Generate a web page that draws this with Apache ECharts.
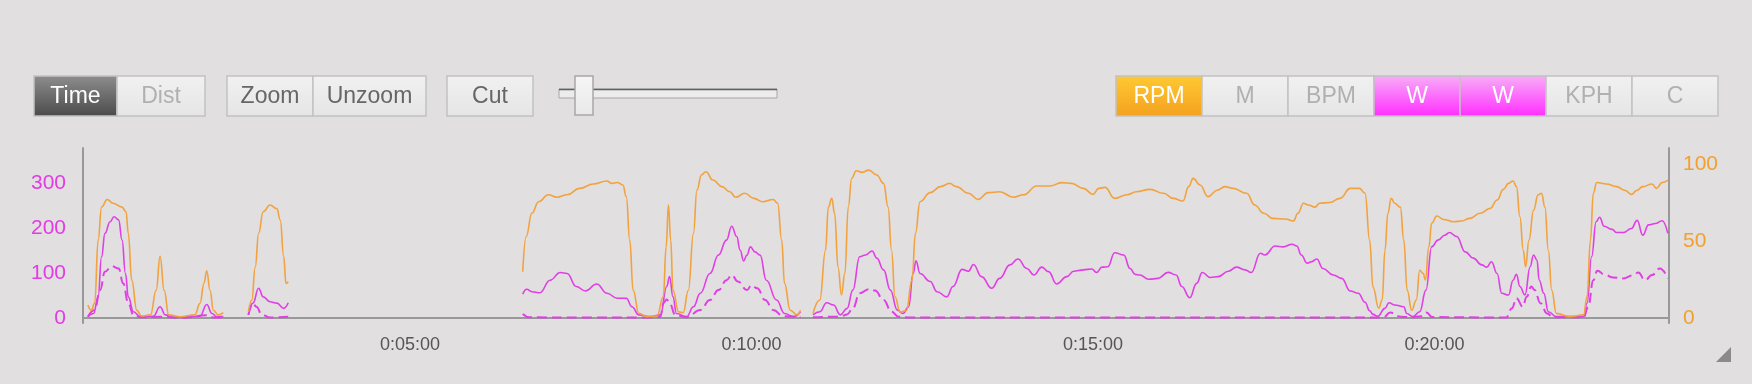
<!DOCTYPE html>
<html><head><meta charset="utf-8">
<script src="https://cdn.jsdelivr.net/npm/echarts@6/dist/echarts.min.js"></script>
<style>html,body{margin:0;padding:0;background:#e1dfdf;}#c{width:1752px;height:384px;}</style>
</head><body><div id="c"></div>
<script>
// ---- data (time in seconds) ----
const timeTicks = [300, 600, 900, 1200];
const wattTicks = [0, 100, 200, 300];
const rpmTicks = [0, 50, 100];
const toolbarLeft = ['Time', 'Dist'];
const toolbarZoom = ['Zoom', 'Unzoom'];
const toolbarCut = ['Cut'];
const metricButtons = ['RPM', 'M', 'BPM', 'W', 'W', 'KPH', 'C'];

const rpm = [[17,8.4],[20,5],[23,9.7],[26,50.6],[29,72],[34,77],[39,74.5],[47,72],[50.5,69],[52.5,55],[55.5,24.7],[60,5],[64,1.3],[72,2],[77,18],[80.4,40],[84,18],[88,2],[98,0.8],[111,2],[115.5,9.5],[119,22.6],[121.4,30.7],[124.3,18],[127.2,5],[131.6,2],[136,3.5],[147,null],
[158,4],[161,11.7],[164,33],[167,55],[171,69],[177,73.4],[183,71],[186,63.6],[189,40],[191,22.5],[193,23.6],[300,null],
[399,30],[402,52.8],[407,68],[413,75.5],[421.5,80],[429,78.4],[438,80],[449,84.2],[461,87],[473,89],[477,87.4],[482,88],[487,86.4],[490,78.8],[493,50.6],[496,18],[501,3],[508,0.9],[517,1.3],[522.5,13.8],[525,46],[527,73.4],[529,50.6],[531,18],[536,4],[540,3.5],[544.5,18],[549,55],[552,83],[556,92.9],[560,95],[566,89.6],[574,85.3],[581,82],[586,78.4],[594,81],[602,77.7],[610,75.5],[619,77],[623,74.5],[626.5,50.6],[629,22.5],[634,5],[640,2],[643,5],[648,null],
[654,3],[660,11.7],[665,44],[667.5,72],[670.5,77.7],[673,68],[676,33],[679,15],[682,29],[685,72],[688,90.7],[692,95.6],[697,94.6],[703,96],[710,92.9],[716,87.4],[720,72],[723,44],[726,13.8],[730.5,4],[736,4.7],[741,24.7],[744,55],[748,75.5],[757,81.4],[766,85.3],[774,87.4],[780,85.3],[790.5,81],[799,77],[808,81.4],[818,82],[830,78.4],[839,80],[850.5,85.7],[862,85.7],[872.5,87.9],[881,87.4],[891.5,84.2],[900,80.3],[905,84.2],[910.5,84.8],[919,77.7],[930,80],[938,82],[950,83.5],[962,81],[970.5,77.7],[979,76],[984,85.3],[988,90.7],[994,86.4],[1001,78.8],[1009,83],[1016,85.3],[1023,84.2],[1035,81],[1042,73.4],[1050,68],[1058,64.7],[1069,64.3],[1076,63],[1080,68],[1085,74.5],[1089,73.4],[1095,72],[1099,74.5],[1108,75],[1117,77.7],[1126,84.2],[1134,84.2],[1139,81],[1143,50.6],[1146,20],[1151,6.3],[1154,11.7],[1156.5,44],[1159,68],[1162,77.7],[1165,74.5],[1170,72],[1173,50.6],[1176,18],[1180,5],[1184,11.7],[1187,31],[1190,29],[1192,24.7],[1195,46],[1197.5,61.5],[1202,66.2],[1208,64],[1216.5,62.5],[1224,63],[1231,64.7],[1240,68],[1249,71.2],[1255,76.6],[1260.5,83.5],[1265,87.4],[1269,89],[1272,85.3],[1275,65.8],[1278,44],[1280,33.3],[1283,50.6],[1287,70],[1291,80],[1294,81],[1297,72],[1300,44],[1303,18],[1307,3],[1319,0.9],[1331,2],[1334,13.8],[1337,50.6],[1339.5,81],[1342.5,88],[1351,87],[1360,85.3],[1367,83],[1373,80.3],[1377.6,82.8],[1383,85.3],[1391,87],[1395,84.2],[1400,88],[1405,89.6]];

const watts = [[17,3],[22,10],[26,47],[29,136],[32,188],[36.5,214],[40,225],[44,218],[47,173],[50,99],[52.5,47],[57,14],[63,3],[74.5,4],[80.4,25],[85,7],[92,1.5],[115.5,4],[121.4,30],[126,10],[130,3],[136,3],[147,null],
[158,7],[162,33],[167,66],[171,47],[177,36],[183,33],[189,21.5],[193,34],[300,null],
[399,53],[402.5,64],[407,58.5],[414,56],[423,84],[432,101],[438,99],[446,70],[454,60],[464,75.5],[473,55],[482,44],[490,44],[495,25],[501,7],[511,3],[520,7],[525.5,70],[528,92],[531,47],[534,10],[543,3],[549,25],[555,55],[563.5,99],[571,140],[578,173],[582.6,204],[587,181],[590,151],[593,127],[596,140],[599,158],[603,147],[607.5,140],[613,84],[622,40],[629,10],[637,3],[643,14],[648,null],
[654,7],[660,14],[666,34],[672,29],[678,7],[684,21.5],[689,62],[695,136],[700,140],[706,149],[710,133],[716,107],[722,62],[728,18],[733,10],[738,25],[742,99],[744.5,127],[748,99],[757,81],[763,58.5],[771.5,47],[777,70],[785,108],[790.5,104],[795,119],[802,92],[811,66],[818,88],[827,118],[834,131],[842,110],[848,95.5],[855,113],[861,103],[868,75.5],[877,92],[883,104],[891.5,107],[899,109],[903,101],[908,113],[913,114],[919,145],[927,140],[932.5,110],[937,97],[941,95.5],[949,86],[957,88],[966,101.5],[973,95.5],[978,70],[985,45],[991,77],[996,101],[1003,90],[1010,92],[1019,104],[1026,113],[1033.5,107],[1039,101],[1047,144],[1051,140],[1060,160],[1067,158],[1075,164],[1079,160],[1083,140],[1088,122],[1092,125],[1096.5,131],[1102,110],[1111,95.5],[1118.5,88],[1126,60],[1133,55],[1139,35],[1143,16],[1146,8],[1150,4],[1156.5,21.5],[1160,34],[1165,29],[1173,25],[1175.6,10],[1181,3],[1187,14],[1192.5,62],[1197.5,158],[1203,173],[1209,184],[1213,190],[1219.5,181],[1227,147],[1234,133],[1241.5,118],[1246,113],[1250,125],[1255,99],[1259,55],[1265,51],[1269,84],[1272,97],[1275,70],[1279.5,51],[1284,114],[1287,140],[1290,129],[1292,84],[1296,55],[1300,14],[1307,3],[1331,3],[1334,33],[1338,136],[1342,214],[1345,224],[1349,204],[1356,197],[1360,190],[1366,190],[1373,199],[1378,217],[1383,184],[1388,207],[1394,210],[1400,216],[1405,188]];

const wattsAvg = [[17,3],[23,18],[27.7,62],[32,103],[38,115],[44,110],[48,77],[52.5,33],[57,7],[63,1.5],[80,3],[100,0.5],[121,6],[128,1],[136,1],[147,null],
[158,7],[162,33],[165,25],[170,7],[177,1],[193,3],[300,null],
[399,9],[405,1.5],[450,1],[515,1],[520,3],[522.5,33],[525.5,41],[528,33],[533,7],[543,1.5],[555,18],[563.5,40],[571,62],[578,84],[582.6,95.5],[588,81],[596,62],[600,73],[605,66],[612,40],[619,18],[628,4],[643,1.5],[648,null],
[654,1.5],[678,3],[684,8],[689,21.5],[695,55],[703,64],[708.5,61],[716,40],[723,14],[729,3],[740,1],[900,1],[1100,1],[1155,1],[1161,12],[1170,3],[1180,1.5],[1188,4],[1193,12],[1198,2],[1263,1],[1268,21.5],[1272,44],[1277.5,25],[1281,47],[1285,70],[1288,62],[1293,33],[1299,10],[1304,1.5],[1331,1.5],[1335,25],[1339.5,84],[1343,105],[1350,95.5],[1357,90],[1366,88],[1375,95.5],[1379,101],[1385,84],[1391,95.5],[1398,110],[1405,88]];

// ---- helpers ----
const FONT = '"Liberation Sans", Arial, sans-serif';
function fmtTime(s) {
  const h = Math.floor(s / 3600), m = Math.floor((s % 3600) / 60), sec = Math.round(s % 60);
  return h + ':' + String(m).padStart(2, '0') + ':' + String(sec).padStart(2, '0');
}
function grad(a, b) {
  return new echarts.graphic.LinearGradient(0, 0, 0, 1, [{offset: 0, color: a}, {offset: 1, color: b}]);
}
const styles = {
  dark: {fill: ['#8e8e8e', '#4a4a4a'], text: '#ffffff'},
  light: {fill: ['#f2f1f1', '#e6e5e5'], text: '#b0b0b0'},
  plain: {fill: ['#f2f1f1', '#e6e5e5'], text: '#666666'},
  orange: {fill: ['#ffc933', '#f4a11f'], text: '#ffffff'},
  pink: {fill: ['#f8aef8', '#ff2dff'], text: '#ffffff'}
};
function button(x, y, w, h, label, st) {
  const s = styles[st];
  return {
    type: 'group', x: x, y: y, silent: true,
    children: [
      {type: 'rect', shape: {x: 0, y: 0, width: w, height: h}, style: {fill: grad(s.fill[0], s.fill[1]), stroke: '#c2c2c2', lineWidth: 1.5}},
      {type: 'text', x: w / 2, y: h / 2 + 1, style: {text: label, fill: s.text, font: '23px ' + FONT, align: 'center', verticalAlign: 'middle'}}
    ]
  };
}
const g = [];
const bY = 76, bH = 40;
g.push(button(34, bY, 83, bH, toolbarLeft[0], 'dark'));
g.push(button(117, bY, 88, bH, toolbarLeft[1], 'light'));
g.push(button(227, bY, 86, bH, toolbarZoom[0], 'plain'));
g.push(button(313, bY, 113, bH, toolbarZoom[1], 'plain'));
g.push(button(447, bY, 86, bH, toolbarCut[0], 'plain'));
// slider
g.push({type: 'rect', shape: {x: 559, y: 89, width: 218, height: 9}, style: {fill: '#ececec', stroke: '#a8a8a8', lineWidth: 1}});
g.push({type: 'line', shape: {x1: 559, y1: 89.5, x2: 777, y2: 89.5}, style: {stroke: '#606060', lineWidth: 1.5}});
g.push({type: 'rect', shape: {x: 575, y: 76, width: 18, height: 39}, style: {fill: grad('#f6f6f6', '#e8e8e8'), stroke: '#a8a8a8', lineWidth: 1.5}});
const metricStyles = ['orange', 'light', 'light', 'pink', 'pink', 'light', 'light'];
metricButtons.forEach((lab, i) => g.push(button(1116 + i * 86, bY, 86, bH, lab, metricStyles[i])));
// resize grip
g.push({type: 'polygon', shape: {points: [[1731, 347], [1731, 362], [1716, 362]]}, style: {fill: '#6e6e6e', opacity: 0.75}});

const chart = echarts.init(document.getElementById('c'), null, {renderer: 'canvas'});
chart.setOption({
  backgroundColor: '#e1dfdf',
  animation: false,
  grid: {left: 83, right: 83, top: 148, bottom: 61},
  xAxis: {
    type: 'value', min: 12.7, max: 1406,
    axisLine: {show: true, lineStyle: {color: '#999999', width: 2}},
    axisTick: {show: false},
    splitLine: {show: false},
    axisLabel: {customValues: timeTicks, formatter: v => fmtTime(v), color: '#555555', fontSize: 18, fontFamily: FONT, margin: 13}
  },
  yAxis: [
    {
      type: 'value', min: -11.1, max: 377.8, position: 'left',
      axisLine: {show: true, lineStyle: {color: '#999999', width: 2}},
      axisTick: {show: false}, splitLine: {show: false},
      axisLabel: {customValues: wattTicks, color: '#e33be6', fontSize: 21, fontFamily: FONT, margin: 17}
    },
    {
      type: 'value', min: -3.25, max: 110.4, position: 'right',
      axisLine: {show: true, lineStyle: {color: '#999999', width: 2}},
      axisTick: {show: false}, splitLine: {show: false},
      axisLabel: {customValues: rpmTicks, color: '#f2a030', fontSize: 21, fontFamily: FONT, margin: 14}
    }
  ],
  series: [
    {name: 'W avg', type: 'line', yAxisIndex: 0, data: wattsAvg, showSymbol: false, smooth: 0.45, smoothMonotone: 'x', connectNulls: false,
      lineStyle: {color: '#e03fe5', width: 2, type: [10, 5]}},
    {name: 'W', type: 'line', yAxisIndex: 0, data: watts, showSymbol: false, smooth: 0.45, smoothMonotone: 'x', connectNulls: false,
      lineStyle: {color: '#e03fe5', width: 1.6}},
    {name: 'RPM', type: 'line', yAxisIndex: 1, data: rpm, showSymbol: false, smooth: 0.45, smoothMonotone: 'x', connectNulls: false,
      lineStyle: {color: '#f2a23e', width: 1.6}}
  ],
  graphic: g
});
</script>
</body></html>
